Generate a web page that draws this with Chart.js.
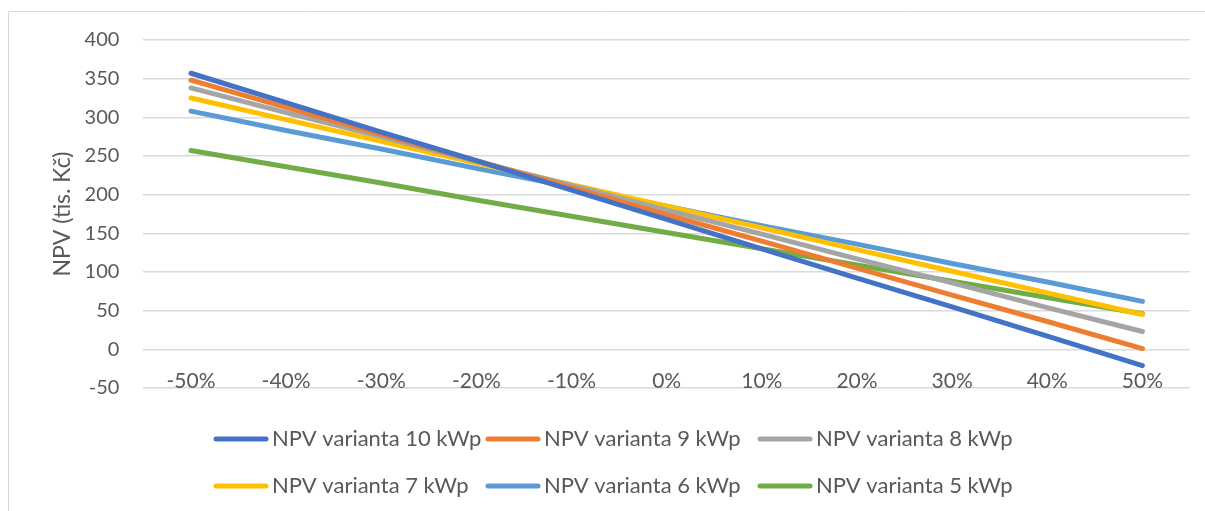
<!DOCTYPE html>
<html>
<head>
<meta charset="utf-8">
<script src="https://cdn.jsdelivr.net/npm/chart.js@4/dist/chart.umd.min.js"></script>
<style>
  html, body { margin: 0; padding: 0; background: #fff; }
</style>
</head>
<body>
<canvas id="chartArea" width="1205" height="511"></canvas>
<script>
// change of input parameter (x axis)
const categories = ['-50%', '-40%', '-30%', '-20%', '-10%', '0%', '10%', '20%', '30%', '40%', '50%'];

// NPV in thousands CZK
const npv10 = [357, 319, 281, 244, 206, 168, 130, 92, 55, 17, -21];
const npv9 = [348, 313, 278, 244, 209, 174, 140, 105, 70, 36, 1];
const npv8 = [338, 306, 275, 243, 212, 180, 149, 117, 86, 54, 23];
const npv7 = [325, 297, 269, 241, 213, 185, 157, 129, 101, 73, 45];
const npv6 = [308, 283, 259, 234, 210, 185, 160, 136, 111, 87, 62];
const npv5 = [257, 236, 215, 193, 172, 151, 130, 109, 88, 67, 46];

const seriesNames = ['NPV varianta 10 kWp', 'NPV varianta 9 kWp', 'NPV varianta 8 kWp',
    'NPV varianta 7 kWp', 'NPV varianta 6 kWp', 'NPV varianta 5 kWp'];
const seriesColors = ['#4472C4', '#ED7D31', '#A5A5A5', '#FFC000', '#5B9BD5', '#70AD47'];

const FONT = 'Lato';
const TEXT = '#595959';

function makeDataset(i, values) {
    return {
        label: seriesNames[i],
        data: values,
        borderColor: seriesColors[i],
        backgroundColor: seriesColors[i],
        borderWidth: 5,
        borderCapStyle: 'round',
        borderJoinStyle: 'round',
        pointRadius: 0,
        fill: false,
        tension: 0,
    };
}

// frame of the chart box (cut at right/bottom like the original)
const frame = {
    id: 'frame',
    beforeDraw(chart) {
        const c = chart.ctx;
        c.save();
        c.strokeStyle = '#d9d9d9';
        c.lineWidth = 1;
        c.beginPath();
        c.moveTo(8.5, chart.height);
        c.lineTo(8.5, 11.5);
        c.lineTo(chart.width, 11.5);
        c.stroke();
        c.restore();
    }
};

// Excel-like legend: 3 columns, 2 rows
const gridLegend = {
    id: 'gridLegend',
    afterDraw(chart) {
        const c = chart.ctx;
        c.save();
        c.font = '22px ' + FONT;
        c.textBaseline = 'middle';
        c.textAlign = 'left';
        chart.data.datasets.forEach((ds, i) => {
            const col = i % 3, row = Math.floor(i / 3);
            const x = 214 + col * 272;
            const y = 439 + row * 47;
            c.strokeStyle = ds.borderColor;
            c.lineWidth = 5;
            c.lineCap = 'round';
            c.beginPath();
            c.moveTo(x + 2, y);
            c.lineTo(x + 52, y);
            c.stroke();
            c.fillStyle = TEXT;
            c.fillText(ds.label, x + 58, y);
        });
        c.restore();
    }
};

const ctx = document.getElementById('chartArea');
const chart = new Chart(ctx, {
    type: 'line',
    data: {
        labels: categories,
        datasets: [
            makeDataset(0, npv10),
            makeDataset(1, npv9),
            makeDataset(2, npv8),
            makeDataset(3, npv7),
            makeDataset(4, npv6),
            makeDataset(5, npv5),
        ]
    },
    options: {
        responsive: false,
        animation: false,
        layout: {
            padding: { left: 44, right: 15, top: 40, bottom: 123 }
        },
        plugins: {
            legend: { display: false },
            tooltip: { enabled: false },
        },
        scales: {
            x: {
                offset: true,
                grid: { display: false, drawTicks: false },
                border: { display: false },
                ticks: {
                    color: TEXT,
                    font: { family: FONT, size: 21 },
                    mirror: true,
                    padding: -6,
                    maxRotation: 0,
                    autoSkip: false,
                },
            },
            y: {
                min: -50,
                max: 400,
                grid: { color: '#d9d9d9', lineWidth: 1.5, drawTicks: false },
                border: { display: false },
                ticks: {
                    stepSize: 50,
                    color: TEXT,
                    font: { family: FONT, size: 20 },
                    padding: 24,
                },
                title: {
                    display: true,
                    text: 'NPV (tis. Kč)',
                    color: TEXT,
                    font: { family: FONT, size: 23 },
                    padding: { top: 5, bottom: -16 },
                },
            }
        }
    },
    plugins: [frame, gridLegend],
});
</script>
</body>
</html>
